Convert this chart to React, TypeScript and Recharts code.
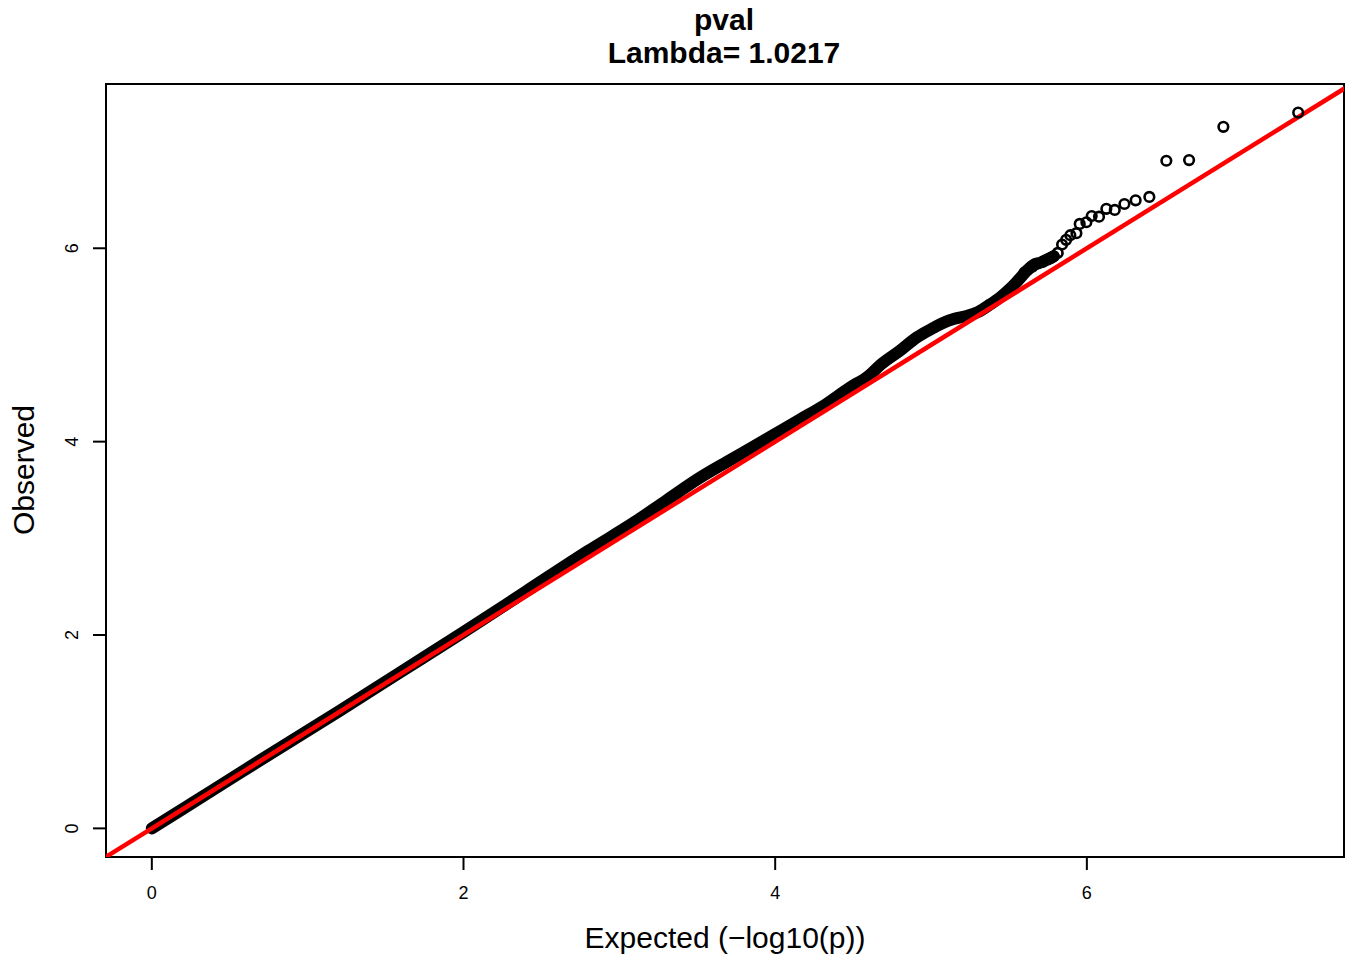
import React from 'react';
import {
  ComposedChart,
  Line,
  Scatter,
  XAxis,
  YAxis,
  ReferenceLine,
  ReferenceArea,
} from 'recharts';

// dense part of the QQ band (expected, observed) read along the band centre
const bandExpected = [
  0.0, 0.4, 0.8, 1.2, 1.6, 2.0, 2.4, 2.8, 3.1, 3.3, 3.52, 3.7, 3.84, 4.0, 4.16, 4.3,
  4.48, 4.6, 4.68, 4.8, 4.91, 5.02, 5.08, 5.15, 5.23, 5.3, 5.38, 5.45, 5.51, 5.56,
  5.616, 5.66, 5.7, 5.74, 5.787,
];
const bandObserved = [
  0.0, 0.405, 0.81, 1.21, 1.62, 2.03, 2.45, 2.87, 3.17, 3.39, 3.63, 3.8, 3.93, 4.08,
  4.23, 4.36, 4.56, 4.68, 4.8, 4.94, 5.08, 5.18, 5.23, 5.27, 5.3, 5.34, 5.42, 5.5,
  5.585, 5.67, 5.77, 5.83, 5.85, 5.88, 5.917,
];

// sparse tail, individual circles
const tailExpected = [
  5.6, 5.65, 5.68, 5.72, 5.75, 5.77, 5.787, 5.813, 5.841, 5.867, 5.894, 5.933, 5.954,
  5.997, 6.031, 6.078, 6.125, 6.179, 6.241, 6.313, 6.401, 6.51, 6.656, 6.876, 7.356,
];
const tailObserved = [
  5.75, 5.81, 5.84, 5.86, 5.885, 5.9, 5.917, 5.952, 6.039, 6.087, 6.135, 6.156, 6.252,
  6.269, 6.334, 6.327, 6.408, 6.397, 6.458, 6.496, 6.531, 6.905, 6.912, 7.256, 7.403,
];

const xTicks = [0, 2, 4, 6];
const yTicks = [0, 2, 4, 6];

const band = bandExpected.map((x, i) => ({ x, y: bandObserved[i] }));
const tail = tailExpected.map((x, i) => ({ x, y: tailObserved[i] }));

const FONT = '"Liberation Sans", Arial, Helvetica, sans-serif';
const X_DOMAIN: [number, number] = [-0.294, 7.65];
const Y_DOMAIN: [number, number] = [-0.296, 7.699];

const Ring = (props: any) => (
  <circle cx={props.cx} cy={props.cy} r={4.8} fill="none" stroke="#000" strokeWidth={2.6} />
);

const XTick = ({ x, payload }: any) => (
  <text x={x} y={893} textAnchor="middle" dominantBaseline="central" fontSize={18} fill="#000" fontFamily={FONT}>
    {payload.value}
  </text>
);

const YTick = ({ y, payload }: any) => (
  <text
    x={72}
    y={y}
    transform={`rotate(-90 72 ${y})`}
    textAnchor="middle"
    dominantBaseline="central"
    fontSize={18}
    fill="#000"
    fontFamily={FONT}
  >
    {payload.value}
  </text>
);

export default function App() {
  return (
    <div style={{ position: 'absolute', left: 0, top: 0, width: 1352, height: 956, background: '#fff', fontFamily: FONT }}>
      <div
        style={{
          position: 'absolute',
          left: 0,
          top: 3,
          width: 1448,
          textAlign: 'center',
          fontWeight: 'bold',
          fontSize: 30,
          lineHeight: '33px',
          color: '#000',
        }}
      >
        <div>pval</div>
        <div>Lambda= 1.0217</div>
      </div>
      <ComposedChart
        width={1352}
        height={956}
        margin={{ top: 84, right: 8, bottom: 39, left: 46 }}
        style={{ position: 'absolute', left: 0, top: 0 }}
      >
        <XAxis
          type="number"
          dataKey="x"
          domain={X_DOMAIN}
          ticks={xTicks}
          allowDataOverflow
          axisLine={false}
          tickSize={13}
          tickLine={{ stroke: '#000', strokeWidth: 2 }}
          tick={<XTick />}
          height={60}
          label={{
            content: () => (
              <text x={725} y={937} textAnchor="middle" dominantBaseline="central" fontSize={30} fill="#000" fontFamily={FONT}>
                Expected (−log10(p))
              </text>
            ),
          }}
        />
        <YAxis
          type="number"
          dataKey="y"
          domain={Y_DOMAIN}
          ticks={yTicks}
          allowDataOverflow
          axisLine={false}
          tickSize={13}
          tickLine={{ stroke: '#000', strokeWidth: 2 }}
          tick={<YTick />}
          width={60}
          label={{
            content: () => (
              <text
                x={23}
                y={470}
                transform="rotate(-90 23 470)"
                textAnchor="middle"
                dominantBaseline="central"
                fontSize={30}
                fill="#000"
                fontFamily={FONT}
              >
                Observed
              </text>
            ),
          }}
        />
        <Line
          data={band}
          dataKey="y"
          type="monotone"
          stroke="#000"
          strokeWidth={12}
          strokeLinecap="round"
          strokeLinejoin="round"
          dot={false}
          activeDot={false}
          isAnimationActive={false}
        />
        <Scatter data={tail} dataKey="y" shape={Ring} isAnimationActive={false} />
        <ReferenceLine
          segment={[
            { x: -0.4, y: -0.4 },
            { x: 7.8, y: 7.8 },
          ]}
          stroke="#ff0000"
          strokeWidth={4.5}
          ifOverflow="hidden"
        />
        <ReferenceArea
          x1={X_DOMAIN[0]}
          x2={X_DOMAIN[1]}
          y1={Y_DOMAIN[0]}
          y2={Y_DOMAIN[1]}
          fill="none"
          fillOpacity={0}
          stroke="#000"
          strokeWidth={2}
          strokeOpacity={1}
        />
      </ComposedChart>
    </div>
  );
}
